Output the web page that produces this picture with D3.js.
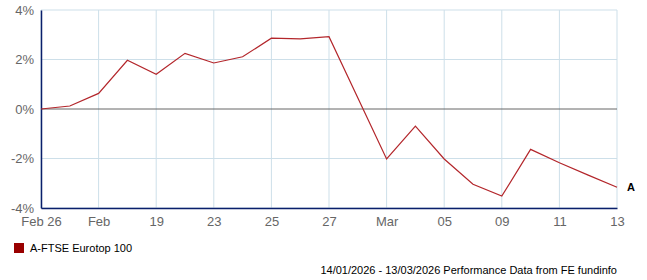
<!DOCTYPE html>
<html>
<head>
<meta charset="utf-8">
<script src="https://cdn.jsdelivr.net/npm/d3@7"></script>
<style>
  body { margin: 0; background: #fff; }
  svg { display: block; font-family: "Liberation Sans", Arial, sans-serif; }
</style>
</head>
<body>
<div id="chart"></div>
<script>
// x positions are trading-day slots, labels sit on every second slot
const tickLabels = ["Feb 26", "Feb", "19", "23", "25", "27", "Mar", "05", "09", "11", "13"];
const tickSlots = [0, 2, 4, 6, 8, 10, 12, 14, 16, 18, 20];
const slots = [0, 1, 2, 3, 4, 5, 6, 7, 8, 9, 10, 12, 13, 14, 15, 16, 17, 18, 19, 20];
const values = [0, 0.12, 0.63, 1.97, 1.40, 2.25, 1.86, 2.11, 2.86, 2.83, 2.92,
                -2.02, -0.69, -2.02, -3.04, -3.52, -1.63, -2.17, -2.67, -3.16];
const yTicks = [-4, -2, 0, 2, 4];
const seriesName = "A-FTSE Eurotop 100";
const footer = "14/01/2026 - 13/03/2026 Performance Data from FE fundinfo";

const W = 647, H = 280;
const margin = { top: 10, right: 30, bottom: 72, left: 41 };
const width = W - margin.left - margin.right;
const height = H - margin.top - margin.bottom;

const svg = d3.select("#chart")
    .append("svg")
    .attr("width", W)
    .attr("height", H);

const g = svg.append("g")
    .attr("transform", `translate(${margin.left},${margin.top})`);

const x = d3.scaleLinear().domain([0, 20]).range([0, width]);
const y = d3.scaleLinear().domain([-4, 4]).range([height, 0]);

// grid
g.append("g")
    .selectAll("line")
    .data(tickSlots)
    .enter()
    .append("line")
    .attr("x1", d => x(d)).attr("x2", d => x(d))
    .attr("y1", 0).attr("y2", height)
    .attr("stroke", "#cddfe9");

g.append("g")
    .selectAll("line")
    .data(yTicks)
    .enter()
    .append("line")
    .attr("x1", 0).attr("x2", width)
    .attr("y1", d => y(d)).attr("y2", d => y(d))
    .attr("stroke", d => d === 0 ? "#666" : "#cddfe9");

// axes
const yAxis = g.append("g")
    .call(d3.axisLeft(y).tickValues(yTicks).tickFormat(d => d + "%").tickSize(0).tickPadding(7));
yAxis.select(".domain").attr("stroke", "#0a1f6b").attr("stroke-width", 1.5);
yAxis.selectAll("text").attr("fill", "#666").attr("font-size", 13);

const xAxis = g.append("g")
    .attr("transform", `translate(0,${height})`)
    .call(d3.axisBottom(x).tickValues(tickSlots).tickFormat((d, i) => tickLabels[i]).tickSize(0).tickPadding(9));
xAxis.select(".domain").attr("stroke", "#0a1f6b").attr("stroke-width", 1.5);
xAxis.selectAll("text").attr("fill", "#666").attr("font-size", 13);

// series
const line = d3.line()
    .x((d, i) => x(slots[i]))
    .y(d => y(d));

g.append("path")
    .datum(values)
    .attr("fill", "none")
    .attr("stroke", "#b3262b")
    .attr("stroke-width", 1.2)
    .attr("d", line);

g.append("text")
    .attr("x", x(slots[slots.length - 1]) + 10)
    .attr("y", y(values[values.length - 1]) + 4)
    .attr("font-size", 11)
    .attr("font-weight", "bold")
    .text("A");

// legend
svg.append("rect")
    .attr("x", 14).attr("y", 243)
    .attr("width", 10).attr("height", 10)
    .attr("fill", "#990000");

svg.append("text")
    .attr("x", 30).attr("y", 252)
    .attr("font-size", 11)
    .text(seriesName);

svg.append("text")
    .attr("x", 617).attr("y", 274)
    .attr("text-anchor", "end")
    .attr("font-size", 11)
    .text(footer);
</script>
</body>
</html>
